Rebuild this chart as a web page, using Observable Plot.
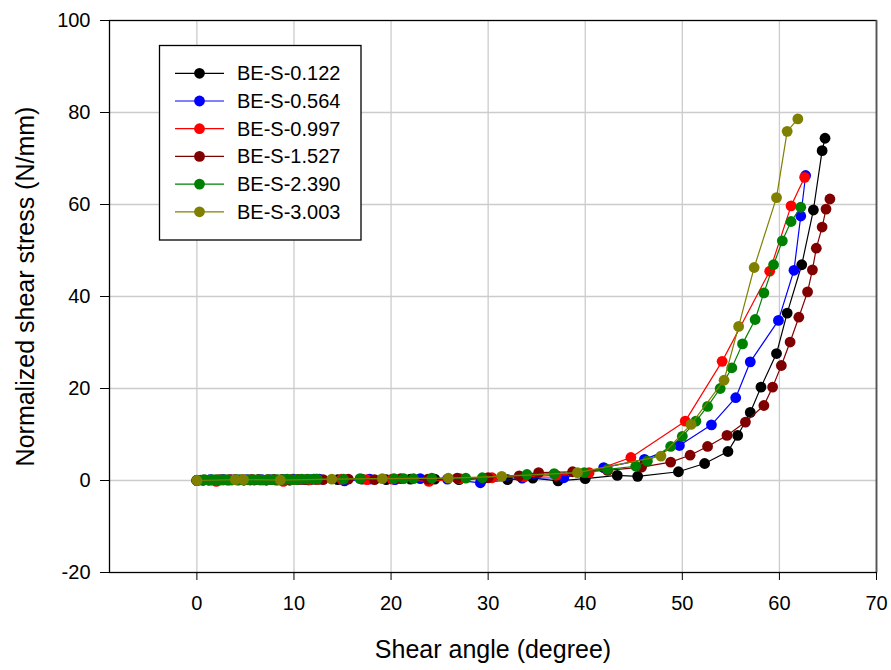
<!DOCTYPE html>
<html>
<head>
<meta charset="utf-8">
<script src="https://cdn.jsdelivr.net/npm/d3@7"></script>
<script src="https://cdn.jsdelivr.net/npm/@observablehq/plot@0.6"></script>
<style>
  html, body { margin: 0; padding: 0; background: #fff; }
  #chart { width: 891px; height: 670px; }
</style>
</head>
<body>
<div id="chart"></div>
<script>
// ---- Data ----
const seriesNames  = ["BE-S-0.122", "BE-S-0.564", "BE-S-0.997", "BE-S-1.527", "BE-S-2.390", "BE-S-3.003"];
const seriesColors = ["#000000", "#0000ff", "#ff0000", "#800000", "#008000", "#808000"];

const angle_0122  = [0, 0.6, 1.2, 1.9, 2.6, 3.3, 4.0, 4.8, 5.6, 6.4, 7.2, 8.0, 8.8, 9.6, 10.5, 11.4, 12.3, 14.5, 17.0, 19.5, 22.0, 24.5, 27.0, 29.5, 32.0, 34.6, 37.2, 40.0, 43.3, 45.4, 49.6, 52.3, 54.7, 55.7, 57.0, 58.1, 59.7, 60.8, 62.3, 63.5, 64.4, 64.7];
const stress_0122 = [0, 0.1, 0.1, 0.1, 0.2, 0.1, 0.2, 0.1, 0.2, 0.2, 0.1, 0.2, 0.2, 0.1, 0.2, 0.2, 0.3, 0.2, 0.3, 0.2, 0.3, 0.3, 0.2, 0.4, 0.2, 0.5, -0.1, 0.4, 1.1, 0.9, 1.9, 3.7, 6.3, 9.8, 14.8, 20.3, 27.6, 36.4, 46.9, 58.8, 71.7, 74.4];

const angle_0564  = [0, 0.7, 1.4, 2.1, 2.8, 3.5, 4.3, 5.1, 5.9, 6.7, 7.5, 8.3, 9.1, 9.9, 10.8, 11.7, 12.6, 15.2, 17.8, 20.4, 23.0, 25.8, 29.2, 33.5, 37.8, 41.9, 46.1, 49.7, 53.0, 55.5, 57.0, 59.9, 61.5, 62.2, 62.7];
const stress_0564 = [0, 0.1, 0.2, 0.1, 0.2, 0.2, 0.1, 0.2, 0.1, 0.2, 0.2, 0.1, 0.2, 0.3, 0.2, 0.2, 0.3, -0.1, 0.3, 0.2, 0.4, 0.3, -0.5, 0.5, 0.6, 2.8, 4.6, 7.6, 12.1, 18.0, 25.8, 34.8, 45.7, 57.5, 66.3];

const angle_0997  = [0, 0.6, 1.3, 2.0, 2.7, 3.4, 4.1, 4.9, 5.7, 6.5, 7.3, 8.1, 8.9, 9.7, 10.6, 11.5, 12.4, 14.9, 17.5, 20.1, 23.9, 27.1, 30.4, 33.7, 37.0, 40.4, 44.7, 50.3, 54.1, 59.0, 61.2, 62.6];
const stress_0997 = [0, 0.1, 0.1, -0.2, 0.1, 0.2, 0.1, 0.1, 0.2, 0.1, 0.2, 0.1, -0.2, 0.2, 0.2, 0.1, 0.2, 0.3, 0.2, 0.3, -0.2, 0.4, 0.6, 0.8, 1.1, 1.7, 5.0, 12.9, 25.9, 45.5, 59.7, 65.9];

const angle_1527  = [0, 0.7, 1.5, 2.3, 3.1, 3.9, 4.7, 5.5, 6.3, 7.1, 7.9, 8.7, 9.5, 10.3, 11.2, 12.1, 13.0, 15.6, 18.3, 21.0, 23.8, 26.8, 30.0, 33.2, 35.2, 38.7, 42.3, 45.8, 48.8, 50.8, 52.6, 54.6, 56.5, 58.4, 59.3, 60.2, 61.1, 62.0, 62.9, 63.4, 63.8, 64.4, 64.8, 65.2];
const stress_1527 = [0, 0.1, 0.1, 0.2, 0.1, 0.2, 0.2, 0.1, 0.2, 0.1, 0.2, 0.2, 0.1, 0.2, 0.2, 0.3, 0.2, 0.3, 0.2, 0.4, 0.3, 0.5, 0.6, 1.0, 1.7, 1.9, 2.2, 2.9, 4.0, 5.5, 7.4, 9.8, 12.7, 16.3, 20.3, 25.0, 30.1, 35.5, 41.0, 45.8, 50.5, 55.1, 59.0, 61.2];

const angle_2390  = [0, 0.4, 0.8, 1.2, 1.6, 2.0, 2.4, 2.8, 3.2, 3.6, 4.0, 4.4, 4.8, 5.3, 5.8, 6.3, 6.8, 7.3, 7.8, 8.3, 8.8, 9.3, 9.8, 10.3, 10.8, 11.4, 12.0, 12.4, 15.1, 16.8, 20.3, 21.3, 22.3, 24.2, 27.7, 29.4, 34.0, 36.8, 39.9, 42.3, 45.2, 46.4, 48.8, 50.0, 51.4, 52.6, 53.9, 55.1, 56.2, 57.5, 58.4, 59.4, 60.3, 61.2, 62.2];
const stress_2390 = [0.1, 0.1, 0.2, 0.1, 0.2, 0.2, 0.1, 0.2, 0.2, 0.1, 0.2, 0.2, 0.1, 0.2, 0.2, 0.2, 0.1, 0.2, 0.2, 0.2, 0.2, 0.3, 0.2, 0.2, 0.3, 0.3, 0.3, 0.3, 0.3, 0.4, 0.4, 0.4, 0.4, 0.5, 0.5, 0.6, 1.3, 1.5, 1.7, 2.4, 3.1, 4.2, 7.4, 9.6, 12.9, 16.1, 20.0, 24.5, 29.7, 35.0, 40.8, 46.9, 52.1, 56.3, 59.4];

const angle_3003  = [0, 3.95, 4.8, 8.6, 13.9, 19.1, 25.9, 31.4, 39.2, 47.8, 50.9, 54.3, 55.8, 57.4, 59.7, 60.8, 61.9];
const stress_3003 = [0, 0.2, 0.2, 0.1, 0.3, 0.4, 0.5, 0.9, 1.7, 5.3, 12.2, 21.8, 33.5, 46.3, 61.5, 75.9, 78.6];

const xTicks = [0, 10, 20, 30, 40, 50, 60, 70];
const yTicks = [-20, 0, 20, 40, 60, 80, 100];
const xTitle = "Shear angle (degree)";
const yTitle = "Normalized shear stress (N/mm)";

// ---- Build table ----
const angles   = [angle_0122, angle_0564, angle_0997, angle_1527, angle_2390, angle_3003];
const stresses = [stress_0122, stress_0564, stress_0997, stress_1527, stress_2390, stress_3003];
const seriesData = seriesNames.map((name, k) =>
  angles[k].map((a, i) => ({series: name, angle: a, stress: stresses[k][i]})));

const FONT = "'Liberation Sans', Arial, Helvetica, sans-serif";

const seriesMarks = seriesData.flatMap((rows, k) => [
  Plot.line(rows, {x: "angle", y: "stress", stroke: seriesColors[k], strokeWidth: 1.2}),
  Plot.dot(rows, {x: "angle", y: "stress", r: 5.4, fill: seriesColors[k], stroke: "none"})
]);

const chart = Plot.plot({
  width: 891,
  height: 670,
  marginLeft: 109,
  marginRight: 15,
  marginTop: 20,
  marginBottom: 98,
  style: {fontFamily: FONT, fontSize: "20px", color: "#000", background: "#fff", overflow: "visible"},
  x: {domain: [-9, 70], ticks: xTicks, label: null},
  y: {domain: [-20, 100], ticks: yTicks, label: null},
  marks: [
    Plot.gridX(xTicks.slice(0, -1), {stroke: "#cccccc", strokeOpacity: 1, strokeWidth: 1.3}),
    Plot.gridY(yTicks.slice(1, -1), {stroke: "#cccccc", strokeOpacity: 1, strokeWidth: 1.3}),
    Plot.frame({stroke: "#000", strokeWidth: 1.3}),
    Plot.ruleX([70], {stroke: "#555", strokeWidth: 1.6}),
    Plot.axisX({ticks: xTicks, tickFormat: d => String(d), tickSize: 8, tickPadding: 15, fontSize: 20, stroke: "#000", label: null}),
    Plot.axisY({ticks: yTicks, tickFormat: d => String(d), tickSize: 9, tickPadding: 10, fontSize: 20, stroke: "#000", label: null}),
    ...seriesMarks,
    Plot.text([xTitle], {text: d => d, frameAnchor: "bottom", textAnchor: "middle", lineAnchor: "middle", dy: 77, fontSize: 25, fill: "#000"}),
    Plot.text([yTitle], {text: d => d, frameAnchor: "left", textAnchor: "middle", lineAnchor: "middle", rotate: -90, dx: -84, dy: -10, fontSize: 25, fill: "#000"})
  ]
});

// ---- Legend drawn inside the frame ----
const svg = d3.select(chart);
const lg = svg.append("g").attr("font-family", FONT).attr("text-anchor", "start");
lg.append("rect")
  .attr("x", 159.5).attr("y", 45.5).attr("width", 201.5).attr("height", 194.5)
  .attr("fill", "#fff").attr("stroke", "#000").attr("stroke-width", 1.3);
seriesNames.forEach((name, k) => {
  const cy = 73.3 + k * 27.7;
  lg.append("line").attr("x1", 175).attr("x2", 224).attr("y1", cy).attr("y2", cy)
    .attr("stroke", seriesColors[k]).attr("stroke-width", 1.2);
  lg.append("circle").attr("cx", 199.5).attr("cy", cy).attr("r", 5.4).attr("fill", seriesColors[k]);
  lg.append("text").attr("x", 237).attr("y", cy).attr("dy", "0.35em")
    .attr("text-anchor", "start").attr("font-size", 20).attr("fill", "#000").text(name);
});

document.getElementById("chart").appendChild(chart);
</script>
</body>
</html>
